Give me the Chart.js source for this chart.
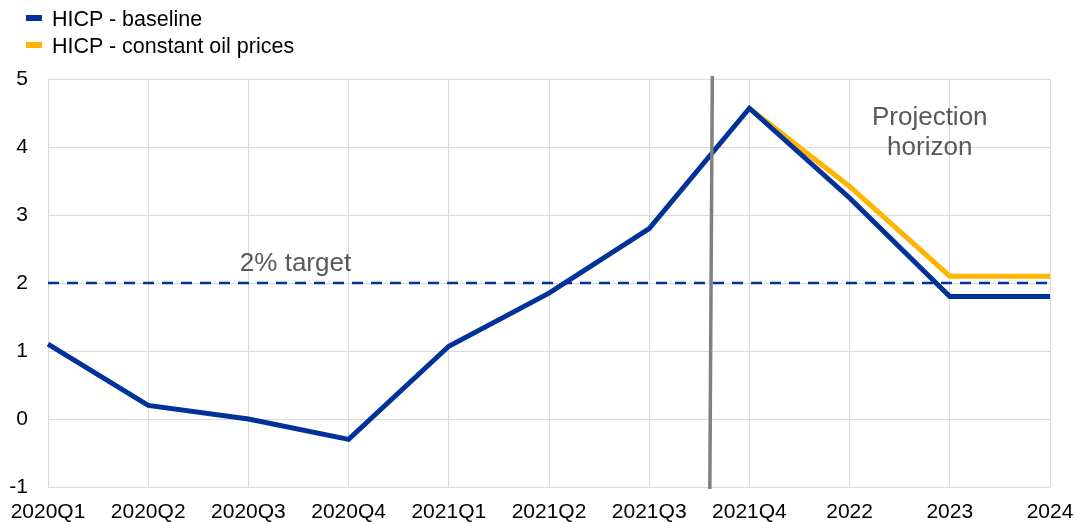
<!DOCTYPE html>
<html>
<head>
<meta charset="utf-8">
<script src="https://cdn.jsdelivr.net/npm/chart.js@4"></script>
<style>
  html, body { margin: 0; padding: 0; background: #fff; }
  #wrap { position: relative; width: 1076px; height: 522px; }
  #legend { position: absolute; left: 26px; top: 6px; font-family: "Liberation Sans", Arial, sans-serif; font-size: 21.5px; color: #000; }
  #legend div { height: 27px; line-height: 27px; white-space: nowrap; }
  #legend span.box { display: inline-block; width: 16px; height: 6px; margin-right: 10px; vertical-align: middle; position: relative; top: -2px; }
</style>
</head>
<body>
<div id="wrap">
  <canvas id="hicpChart" width="1076" height="522"></canvas>
  <div id="legend"></div>
</div>
<script>
const labels = ['2020Q1', '2020Q2', '2020Q3', '2020Q4', '2021Q1', '2021Q2', '2021Q3', '2021Q4', '2022', '2023', '2024'];
const baseline = [1.1, 0.2, 0.0, -0.3, 1.07, 1.85, 2.8, 4.57, 3.25, 1.8, 1.8];
const oilConst = [null, null, null, null, null, null, null, 4.57, 3.42, 2.1, 2.1];
const target = [2, 2, 2, 2, 2, 2, 2, 2, 2, 2, 2];
// projection start (category index, top and bottom of the line)
const horizonTop = 6.63;
const horizonBottom = 6.605;

const blue = '#003299';
const yellow = '#FFB400';
const fontFam = '"Liberation Sans", Arial, sans-serif';

// vertical marker + text labels drawn on top of the plot
const notes = {
  id: 'notes',
  afterDatasetsDraw(chart) {
    const ctx = chart.ctx;
    const x = chart.scales.x, y = chart.scales.y;
    ctx.save();
    ctx.strokeStyle = '#808080';
    ctx.lineWidth = 3.5;
    ctx.beginPath();
    ctx.moveTo(x.getPixelForValue(horizonTop), y.getPixelForValue(5) - 3);
    ctx.lineTo(x.getPixelForValue(horizonBottom), y.getPixelForValue(-1) + 2);
    ctx.stroke();

    ctx.fillStyle = '#595959';
    ctx.font = '26px ' + fontFam;
    ctx.textAlign = 'center';
    ctx.textBaseline = 'middle';
    ctx.fillText('2% target', x.getPixelForValue(2.47), y.getPixelForValue(2.28));
    ctx.fillText('Projection', x.getPixelForValue(8.8), y.getPixelForValue(4.43));
    ctx.fillText('horizon', x.getPixelForValue(8.8), y.getPixelForValue(3.99));
    ctx.restore();
  }
};

const chart = new Chart(document.getElementById('hicpChart'), {
  type: 'line',
  data: {
    labels: labels,
    datasets: [
      {
        label: 'HICP - baseline',
        data: baseline,
        borderColor: blue,
        backgroundColor: blue,
        borderWidth: 5,
        pointRadius: 0,
        tension: 0
      },
      {
        label: 'HICP - constant oil prices',
        data: oilConst,
        borderColor: yellow,
        backgroundColor: yellow,
        borderWidth: 5,
        pointRadius: 0,
        tension: 0
      },
      {
        label: '2% target',
        data: target,
        borderColor: blue,
        borderWidth: 2.5,
        borderDash: [11, 8],
        pointRadius: 0
      }
    ]
  },
  options: {
    responsive: false,
    animation: false,
    layout: { padding: { left: 0, right: 26, top: 79, bottom: 0 } },
    plugins: {
      legend: { display: false },
      tooltip: { enabled: false }
    },
    scales: {
      x: {
        grid: { color: '#d9d9d9', drawTicks: false },
        border: { display: false },
        afterFit(s) {
          s.height = 35;
          s.paddingLeft = 0;
          s.paddingRight = 0;
        },
        ticks: {
          color: '#000',
          font: { family: fontFam, size: 21 },
          padding: 13,
          maxRotation: 0,
          autoSkip: false
        }
      },
      y: {
        min: -1,
        max: 5,
        grid: { color: '#d9d9d9', drawTicks: false },
        border: { display: false },
        afterFit(s) { s.width = 48; },
        ticks: {
          stepSize: 1,
          color: '#000',
          font: { family: fontFam, size: 21 },
          padding: 20
        }
      }
    }
  },
  plugins: [notes]
});

// legend stacked in the top-left corner
const legendBox = document.getElementById('legend');
chart.data.datasets.slice(0, 2).forEach((ds) => {
  const row = document.createElement('div');
  row.innerHTML = '<span class="box" style="background:' + ds.borderColor + '"></span>' + ds.label;
  legendBox.appendChild(row);
});
</script>
</body>
</html>
